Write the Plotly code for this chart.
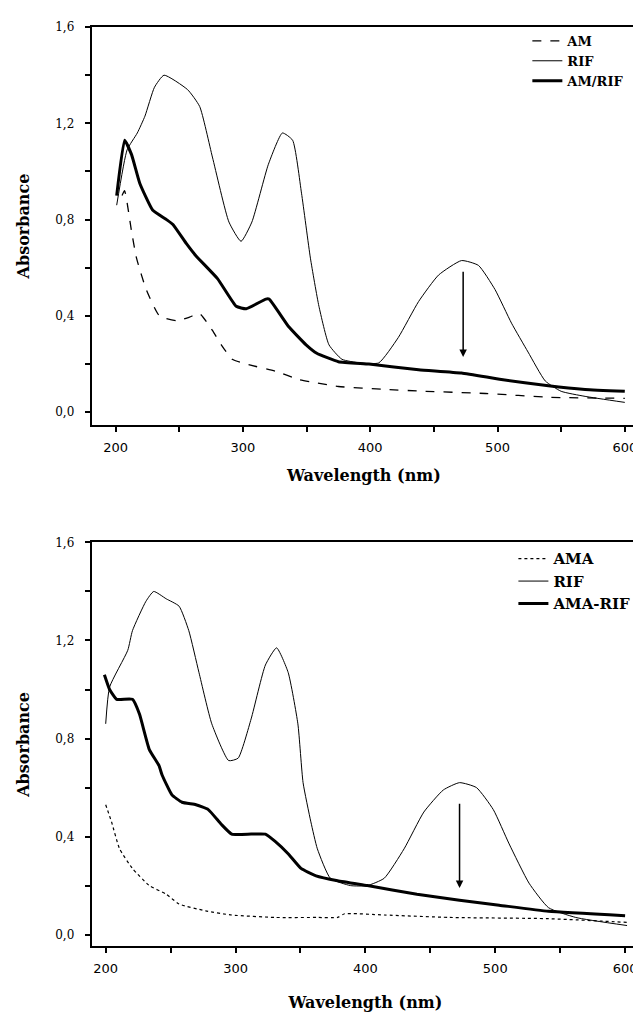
import plotly.graph_objects as go

# ---- top panel: AM, RIF, AM/RIF ----
am_wl = [205, 207, 212.5, 216.4, 224, 234.5, 247.8, 258, 265.8, 276, 283, 291.6, 302.6,
         326, 344, 357, 375, 412, 443.5, 490.5, 542, 600]
am_abs = [0.90, 0.92, 0.75, 0.64, 0.51, 0.40, 0.38, 0.395, 0.41, 0.34, 0.28, 0.22, 0.20,
          0.17, 0.136, 0.123, 0.107, 0.095, 0.087, 0.078, 0.062, 0.058]

rif_wl = [200.8, 209, 217, 223, 230.5, 238, 256.5, 266, 276, 289, 298.5, 307, 320, 331, 339,
          346, 353, 359.7, 367.6, 377.8, 392, 406.7, 422, 438, 453.7, 471.7, 485, 498, 511,
          524, 537.5, 550, 568.8, 600]
rif_abs = [0.86, 1.09, 1.16, 1.23, 1.35, 1.40, 1.34, 1.27, 1.06, 0.79, 0.71, 0.79, 1.03, 1.16,
           1.13, 0.91, 0.64, 0.44, 0.28, 0.22, 0.205, 0.205, 0.31, 0.46, 0.57, 0.63, 0.61, 0.51,
           0.37, 0.25, 0.13, 0.087, 0.066, 0.041]

amrif_wl = [200.8, 207, 212.5, 219, 229, 240, 245, 255.6, 263, 280, 294.7, 302.6, 318, 320.6,
            336, 349.6, 358, 375, 399, 438, 471.7, 503, 540, 568.8, 600]
amrif_abs = [0.90, 1.13, 1.07, 0.95, 0.84, 0.80, 0.78, 0.70, 0.65, 0.555, 0.44, 0.43, 0.47, 0.47,
             0.355, 0.28, 0.245, 0.21, 0.20, 0.177, 0.163, 0.136, 0.11, 0.095, 0.087]

# ---- bottom panel: AMA, RIF, AMA-RIF ----
ama_wl = [200, 204.5, 210.7, 220.6, 233.6, 246.6, 256.5, 277, 297, 330.5, 363, 378.6, 384,
          414.5, 465, 541, 601.5]
ama_abs = [0.53, 0.46, 0.35, 0.27, 0.20, 0.165, 0.125, 0.097, 0.08, 0.07, 0.07, 0.07, 0.085,
           0.08, 0.07, 0.065, 0.05]

rif2_wl = [200, 203, 217, 220.6, 231, 237, 246.6, 256.5, 264, 271.8, 281.7, 294.7, 302, 312,
           323, 331.6, 340.5, 348, 352, 358, 363, 373, 388.5, 401.5, 414.5, 429.8, 445, 460,
           472.5, 485.5, 498.5, 510.7, 526, 541, 562, 601.5]
rif2_abs = [0.86, 1.01, 1.16, 1.24, 1.36, 1.40, 1.37, 1.34, 1.24, 1.07, 0.86, 0.71, 0.72, 0.88,
            1.10, 1.17, 1.07, 0.86, 0.62, 0.46, 0.35, 0.23, 0.20, 0.20, 0.23, 0.35, 0.50, 0.59,
            0.62, 0.60, 0.51, 0.37, 0.21, 0.11, 0.07, 0.037]

amarif_wl = [199, 203, 208.4, 220.6, 226, 233.6, 241, 243.5, 251, 258.8, 269.5, 279, 289, 297,
             312, 323, 330.5, 340.5, 350.4, 362, 378.6, 401.5, 439.7, 472.5, 503, 541, 600]
amarif_abs = [1.06, 1.00, 0.96, 0.96, 0.90, 0.755, 0.69, 0.65, 0.57, 0.54, 0.53, 0.51, 0.45, 0.41,
              0.41, 0.41, 0.38, 0.33, 0.27, 0.24, 0.22, 0.20, 0.165, 0.14, 0.12, 0.095, 0.077]

# arrows marking the drop of the 473 nm band: (wavelength, from, to)
arrow_top = (473, 0.59, 0.23)
arrow_bottom = (472.5, 0.54, 0.19)

x_ticks = [200, 250, 300, 350, 400, 450, 500, 550, 600]
x_labels = ['200', '', '300', '', '400', '', '500', '', '600']
y_ticks = [0.0, 0.2, 0.4, 0.6, 0.8, 1.0, 1.2, 1.4, 1.6]
y_labels = ['0,0', '', '0,4', '', '0,8', '', '1,2', '', '1,6']

# page body has an 8px margin, so the figure is 8px smaller than the window
OFF = 8
W, H = 641 - OFF, 1018 - OFF


def fx(px):
    return (px - OFF) / W


def fy(py):
    return (H - (py - OFF)) / H


serif = 'DejaVu Serif'
sans = 'DejaVu Sans'

fig = go.Figure()
fig.add_trace(go.Scatter(x=am_wl, y=am_abs, name='AM', mode='lines', legend='legend',
                         line=dict(color='black', width=1.3, dash='dash', shape='spline', smoothing=0.5)))
fig.add_trace(go.Scatter(x=rif_wl, y=rif_abs, name='RIF', mode='lines', legend='legend',
                         line=dict(color='black', width=1, shape='spline', smoothing=0.5)))
fig.add_trace(go.Scatter(x=amrif_wl, y=amrif_abs, name='AM/RIF', mode='lines', legend='legend',
                         line=dict(color='black', width=3, shape='spline', smoothing=0.4)))
fig.add_trace(go.Scatter(x=ama_wl, y=ama_abs, name='AMA', mode='lines', legend='legend2',
                         xaxis='x2', yaxis='y2',
                         line=dict(color='black', width=1.2, dash='dot', shape='spline', smoothing=0.5)))
fig.add_trace(go.Scatter(x=rif2_wl, y=rif2_abs, name='RIF', mode='lines', legend='legend2',
                         xaxis='x2', yaxis='y2',
                         line=dict(color='black', width=1, shape='spline', smoothing=0.5)))
fig.add_trace(go.Scatter(x=amarif_wl, y=amarif_abs, name='AMA-RIF', mode='lines', legend='legend2',
                         xaxis='x2', yaxis='y2',
                         line=dict(color='black', width=3, shape='spline', smoothing=0.4)))

axis_style = dict(showline=True, linecolor='black', linewidth=2, mirror=True, ticks='outside',
                  ticklen=5, tickwidth=1.5, tickcolor='black', showgrid=False, zeroline=False)
x_font = dict(family=sans, size=13, color='black')
y_font = dict(family=serif, size=12, color='black')
title_font = dict(family=serif, size=16, color='black', weight='bold')

fig.update_layout(
    width=W, height=H, plot_bgcolor='white', paper_bgcolor='white',
    margin=dict(l=0, r=0, t=0, b=0),
    xaxis=dict(domain=[fx(92), fx(638)], range=[181.2, 608.8], anchor='y',
               tickvals=x_ticks, ticktext=x_labels, tickfont=x_font, ticklabelstandoff=4,
               title=dict(text='Wavelength (nm)', font=title_font, standoff=16), **axis_style),
    yaxis=dict(domain=[fy(421), fy(20)], range=[-0.0535, 1.6005], anchor='x',
               tickvals=y_ticks, ticktext=y_labels, tickfont=y_font, ticklabelstandoff=8,
               title=dict(text='Absorbance', font=title_font, standoff=22), **axis_style),
    xaxis2=dict(domain=[fx(92), 1.0], range=[189.25, 610.7], anchor='y2',
                tickvals=x_ticks, ticktext=x_labels, tickfont=x_font, ticklabelstandoff=4,
                title=dict(text='Wavelength (nm)', font=title_font, standoff=22), **axis_style),
    yaxis2=dict(domain=[fy(946), fy(539)], range=[-0.0485, 1.6005], anchor='x2',
                tickvals=y_ticks, ticktext=y_labels, tickfont=y_font, ticklabelstandoff=8,
                title=dict(text='Absorbance', font=title_font, standoff=22), **axis_style),
    legend=dict(x=fx(529), y=fy(19), xanchor='left', yanchor='top',
                bgcolor='rgba(0,0,0,0)', tracegroupgap=0, itemwidth=30,
                font=dict(family=serif, size=13, color='black', weight='bold')),
    legend2=dict(x=fx(515), y=fy(539), xanchor='left', yanchor='top',
                 bgcolor='rgba(0,0,0,0)', tracegroupgap=0, itemwidth=30,
                 font=dict(family=serif, size=15, color='black', weight='bold')),
)

for (wl, y0, y1), xr, yr in [(arrow_top, 'x', 'y'), (arrow_bottom, 'x2', 'y2')]:
    fig.add_annotation(x=wl, y=y1, ax=wl, ay=y0, xref=xr, yref=yr, axref=xr, ayref=yr,
                       showarrow=True, arrowhead=2, arrowsize=1, arrowwidth=1.5,
                       arrowcolor='black', text='')

fig.write_html("out.html")
